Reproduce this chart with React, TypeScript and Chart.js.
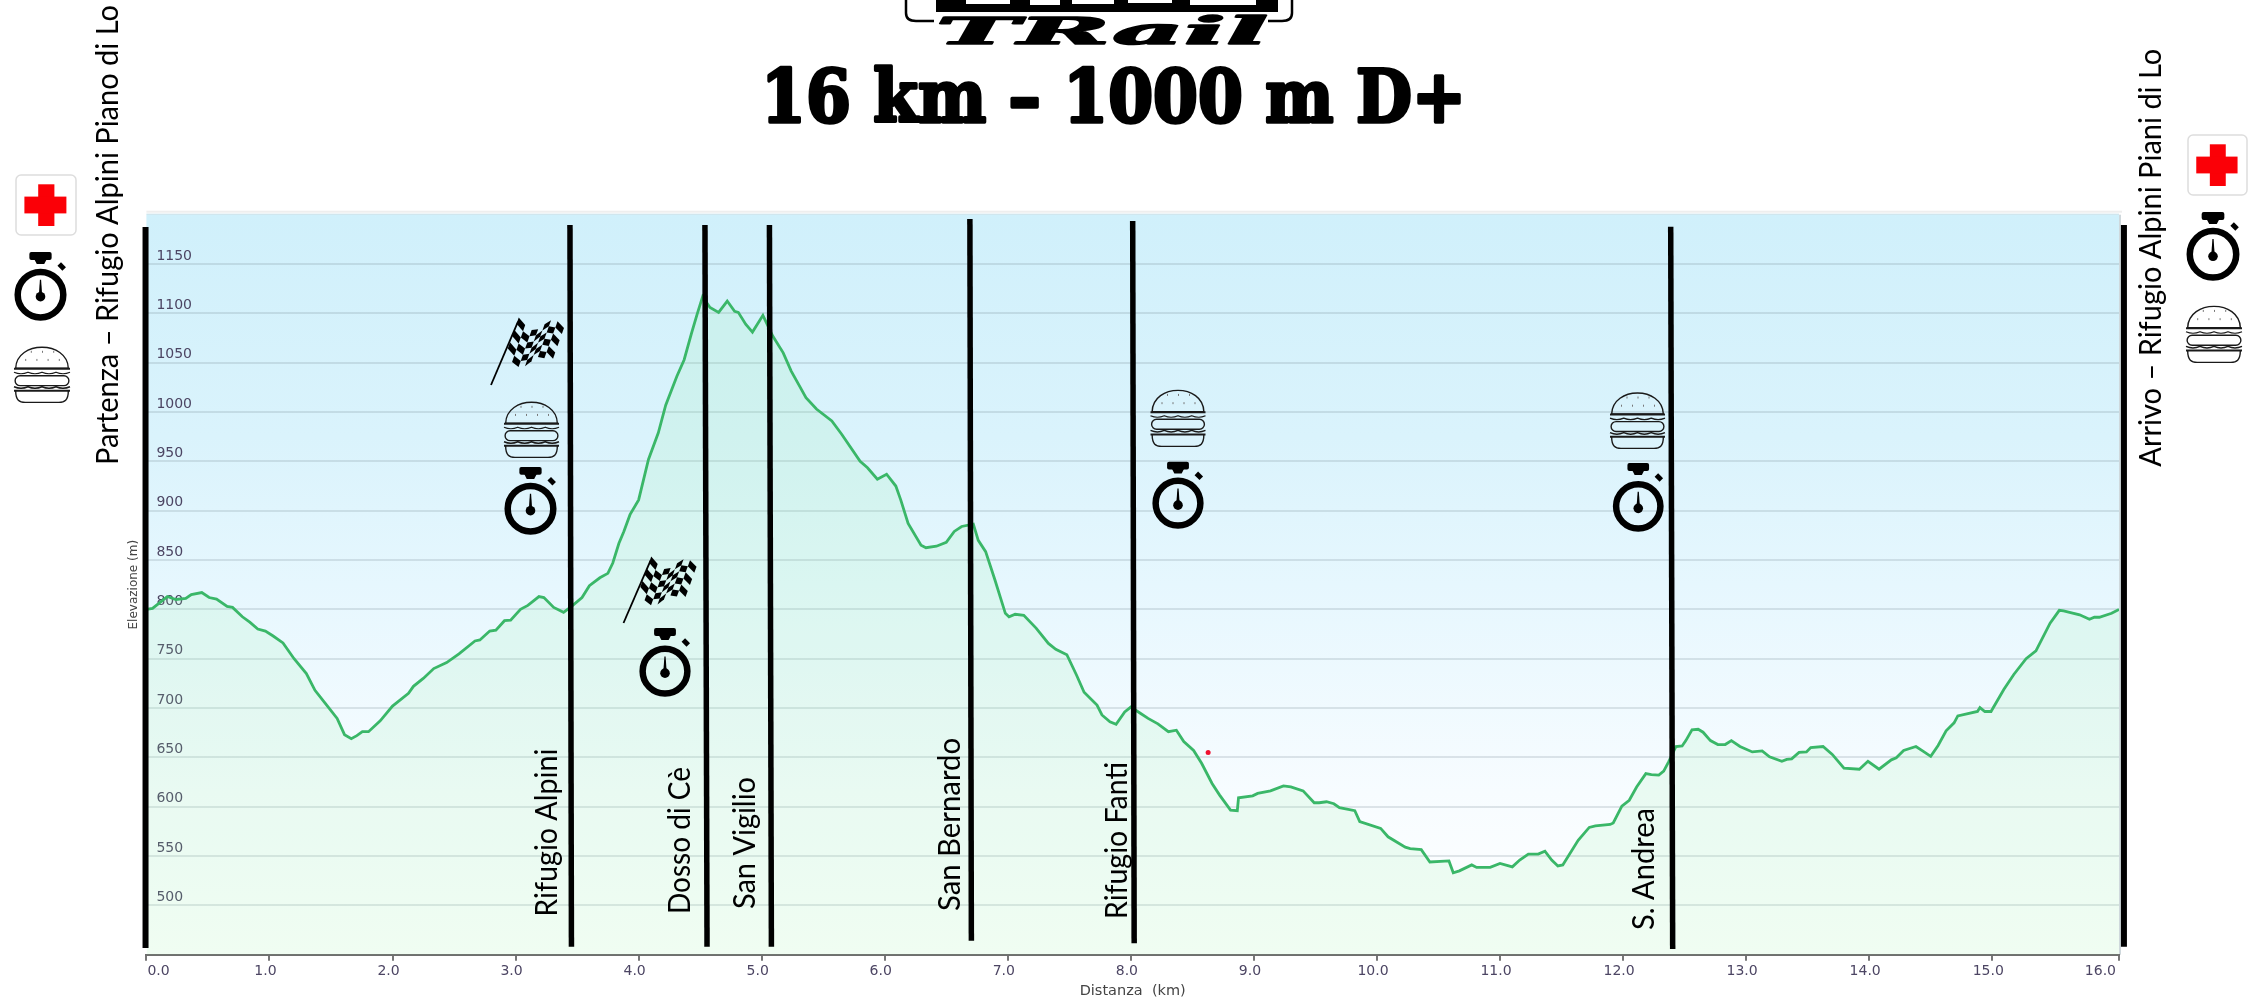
import React, { useEffect, useRef } from "react";
import { Chart, registerables } from "chart.js";

Chart.register(...registerables);

const profileKm = [0,0.05,0.17,0.24,0.32,0.365,0.45,0.51,0.57,0.656,0.7,0.78,0.84,0.905,0.967,1.03,1.11,1.2,1.3,1.37,1.465,1.55,1.61,1.665,1.71,1.755,1.805,1.9,2,2.13,2.17,2.25,2.335,2.44,2.54,2.67,2.71,2.79,2.84,2.91,2.96,3.04,3.1,3.19,3.23,3.31,3.39,3.455,3.54,3.6,3.685,3.75,3.79,3.84,3.88,3.93,4,4.08,4.16,4.22,4.31,4.37,4.43,4.475,4.52,4.58,4.65,4.72,4.78,4.81,4.87,4.925,5.01,5.09,5.175,5.24,5.3,5.36,5.445,5.57,5.65,5.8,5.86,5.94,6.015,6.09,6.13,6.19,6.295,6.335,6.42,6.5,6.565,6.625,6.72,6.76,6.82,6.895,6.98,7.01,7.06,7.13,7.23,7.33,7.39,7.48,7.56,7.62,7.725,7.765,7.83,7.88,7.95,8,8.08,8.14,8.22,8.305,8.37,8.43,8.51,8.575,8.66,8.72,8.81,8.865,8.875,8.99,9.03,9.135,9.24,9.3,9.4,9.49,9.53,9.59,9.65,9.695,9.82,9.86,10.03,10.09,10.23,10.27,10.36,10.43,10.585,10.62,10.67,10.77,10.81,10.92,11,11.1,11.16,11.23,11.31,11.365,11.42,11.47,11.51,11.635,11.725,11.775,11.895,11.92,11.99,12.05,12.11,12.185,12.23,12.29,12.33,12.37,12.43,12.48,12.51,12.56,12.61,12.65,12.71,12.77,12.83,12.88,12.95,13.05,13.13,13.19,13.29,13.33,13.37,13.43,13.49,13.525,13.625,13.7,13.795,13.92,13.99,14.08,14.18,14.22,14.28,14.38,14.44,14.5,14.56,14.625,14.69,14.72,14.88,14.9,14.94,14.99,15.095,15.175,15.275,15.355,15.47,15.545,15.58,15.71,15.79,15.83,15.87,15.97,16.03];
const profileElevation = [800,801,813,810,811,815,817,812,810.5,803,802,792.5,787,780,778,773,766,750,735,718,703,689.5,673,669,672,676,676,687,702,715,722,730,740,746,755,768,769,778,779,788.5,789,800,804,813,812,802,797,803,812,824,832,836.5,847,867,879,896,911,952,979,1007,1036,1053,1080,1099,1117,1106,1101,1112.5,1102,1101,1089,1081,1098,1077,1060,1041.5,1028,1014.5,1003,991,977.5,950,943.5,932,937,925,911,887,865,862.5,864,868,879,884,886.5,870,858.5,830,796,792.5,795,794,781,765.5,759.5,754,733,716,703,693,686,683.5,696,701,694.5,689.5,684,676,677.5,666,657,644,623.5,612,596.5,596,609,611,613.5,616,621,620,616,604,604,605,603,599,596,585,578,569.5,559,557.5,556.5,544,545,533,535,541,538.5,538.5,542.5,539,546,552,552,555,546,540,541,566,579,580.5,582,583.5,600.5,606.5,620,633.5,632.5,632,636,645.5,661,661.5,667,678,678.5,675.5,667,663,663,667,661,655.5,656.5,650.5,646,648,648.5,655,655.5,660,661,653,639,638,646,638,647.5,649.5,657,661,656,651,662,677,685,692,696.5,700.5,696.5,696.5,719,734,750,758,786,799,798.5,794.5,790,792,792,796,800];

const xTickValues = [0,1,2,3,4,5,6,7,8,9,10,11,12,13,14,15,16.03];
const xMin = 0;
const xMax = 16.03;
const yMin = 450;
const yMax = 1200;
const yStep = 50;

const markerKmTop = [-0.007,3.442,4.539,5.063,6.692,8.015,12.387,16.07];
const markerKmBottom = [-0.007,3.454,4.556,5.079,6.704,8.027,12.403,16.07];
const markerElevTop = [1187.5,1189.6,1189.6,1189.6,1195.6,1193.6,1187.8,1189.6];
const markerElevBottom = [456.8,458.1,458.1,458.1,464.2,461.6,455.8,458.1];

const redDotKm = [8.628];
const redDotElev = [655];

const titleText = "16 km – 1000 m D+";
const logoText = "TRail";
const xAxisTitle = "Distanza  (km)";
const yAxisTitle = "Elevazione (m)";

// Rotated place names: text, baseline x, bottom y, length.
const placeNames: [string, number, number, number][] = [
  ["Partenza – Rifugio Alpini Piano di Lo", 118, 465, 460],
  ["Arrivo – Rifugio Alpini Piani di Lo", 2160.5, 466.7, 418],
  ["Rifugio Alpini", 557, 916.7, 168],
  ["Dosso di Cè", 690, 914, 147],
  ["San Vigilio", 755, 909, 132],
  ["San Bernardo", 960, 911, 173],
  ["Rifugio Fanti", 1126.5, 919, 157],
  ["S. Andrea", 1654, 930, 122],
];

// Decorative icons: left, top, width, height.
const crossIcons = [[16,175,60,60],[2188,135,59,60]];
const watchIcons = [[14,252,53,69],[2186,212,54,69],[504,467,53,68],[639,628,52,69],[1152,461.7,52,67.3],[1612.5,463,51.5,69]];
const burgerIcons = [[14,345,56,58],[2186,304,56,59],[504,400,55,58],[1150.5,388,55,59],[1610,390.7,55,58.3]];
const flagIcons = [[491,319,73,66],[623.5,558,73,65]];

function fitText(ctx: CanvasRenderingContext2D, text: string, x: number, y: number, rot: number, font: string, len: number, yScale = 1, bold = 0) {
  ctx.save();
  ctx.font = font;
  ctx.textAlign = "left";
  ctx.textBaseline = "alphabetic";
  ctx.translate(x, y);
  ctx.rotate(rot);
  const w = ctx.measureText(text).width;
  ctx.scale(len / w, yScale);
  if (bold > 0) {
    ctx.lineWidth = bold;
    ctx.lineJoin = "round";
    ctx.strokeStyle = "#000";
    ctx.strokeText(text, 0, 0);
  }
  ctx.fillText(text, 0, 0);
  ctx.restore();
}

function drawCross(ctx: CanvasRenderingContext2D, x: number, y: number, w: number, h: number) {
  ctx.save();
  ctx.fillStyle = "#ffffff";
  ctx.strokeStyle = "#dddddd";
  ctx.lineWidth = 1.5;
  ctx.beginPath();
  ctx.roundRect(x, y, w, h, 5);
  ctx.fill();
  ctx.stroke();
  ctx.fillStyle = "#fb0007";
  ctx.fillRect(x + 0.37 * w, y + 0.155 * h, 0.27 * w, 0.695 * h);
  ctx.fillRect(x + 0.14 * w, y + 0.36 * h, 0.7 * w, 0.28 * h);
  ctx.restore();
}

function drawWatch(ctx: CanvasRenderingContext2D, x: number, y: number, w: number, h: number) {
  ctx.save();
  ctx.fillStyle = "#000";
  ctx.strokeStyle = "#000";
  const cx = x + w * 0.5;
  const r = w * 0.43;
  const cy = y + h - r - 3.5;
  ctx.beginPath();
  ctx.roundRect(cx - w * 0.21, y, w * 0.42, h * 0.115, 2);
  ctx.fill();
  ctx.beginPath();
  ctx.moveTo(cx - w * 0.12, y + h * 0.1);
  ctx.lineTo(cx + w * 0.12, y + h * 0.1);
  ctx.lineTo(cx + w * 0.07, y + h * 0.175);
  ctx.lineTo(cx - w * 0.07, y + h * 0.175);
  ctx.closePath();
  ctx.fill();
  ctx.lineWidth = 6.5;
  ctx.beginPath();
  ctx.arc(cx, cy, r, 0, Math.PI * 2);
  ctx.stroke();
  ctx.save();
  ctx.translate(x + w * 0.9, y + h * 0.21);
  ctx.rotate(Math.PI / 4);
  ctx.fillRect(-3.5, -2.5, 7, 5);
  ctx.restore();
  ctx.beginPath();
  ctx.arc(cx, cy + 2, 4.8, 0, Math.PI * 2);
  ctx.fill();
  ctx.beginPath();
  ctx.moveTo(cx - 1.8, cy + 2);
  ctx.lineTo(cx - 0.6, cy - r * 0.66);
  ctx.lineTo(cx + 0.6, cy - r * 0.66);
  ctx.lineTo(cx + 1.8, cy + 2);
  ctx.closePath();
  ctx.fill();
  ctx.restore();
}

function wavy(ctx: CanvasRenderingContext2D, x0: number, x1: number, y: number, amp: number) {
  ctx.beginPath();
  const n = 4;
  const step = (x1 - x0) / n;
  ctx.moveTo(x0, y);
  for (let i = 0; i < n; i++) {
    ctx.quadraticCurveTo(x0 + step * (i + 0.5), y + amp * 2, x0 + step * (i + 1), y);
  }
  ctx.stroke();
}

function drawBurger(ctx: CanvasRenderingContext2D, x: number, y: number, w: number, h: number) {
  ctx.save();
  ctx.strokeStyle = "#1a1a1a";
  ctx.lineWidth = 1.4;
  const l = x + w * 0.03;
  const rw = w * 0.94;
  ctx.beginPath();
  ctx.moveTo(l, y + h * 0.4);
  ctx.bezierCurveTo(l + rw * 0.02, y - h * 0.08, l + rw * 0.98, y - h * 0.08, l + rw, y + h * 0.4);
  ctx.closePath();
  ctx.stroke();
  ctx.lineWidth = 2;
  ctx.beginPath();
  ctx.moveTo(x, y + h * 0.41);
  ctx.lineTo(x + w, y + h * 0.41);
  ctx.stroke();
  ctx.lineWidth = 1.2;
  wavy(ctx, x, x + w, y + h * 0.47, 1.5);
  ctx.lineWidth = 1.4;
  ctx.beginPath();
  ctx.roundRect(x + w * 0.02, y + h * 0.53, w * 0.96, h * 0.17, 5);
  ctx.stroke();
  wavy(ctx, x, x + w, y + h * 0.72, 1.5);
  ctx.lineWidth = 2;
  ctx.beginPath();
  ctx.moveTo(x, y + h * 0.79);
  ctx.lineTo(x + w, y + h * 0.79);
  ctx.stroke();
  ctx.lineWidth = 1.4;
  ctx.beginPath();
  ctx.moveTo(x + w * 0.03, y + h * 0.79);
  ctx.bezierCurveTo(x + w * 0.03, y + h * 0.96, x + w * 0.1, y + h * 0.99, x + w * 0.2, y + h * 0.99);
  ctx.lineTo(x + w * 0.8, y + h * 0.99);
  ctx.bezierCurveTo(x + w * 0.9, y + h * 0.99, x + w * 0.97, y + h * 0.96, x + w * 0.97, y + h * 0.79);
  ctx.stroke();
  ctx.fillStyle = "#777";
  for (const [a, b] of [[0.3, 0.1], [0.5, 0.1], [0.7, 0.1], [0.2, 0.24], [0.4, 0.24], [0.6, 0.24], [0.8, 0.24]]) {
    ctx.fillRect(x + w * a, y + h * b, 1, 2);
  }
  ctx.restore();
}

function drawFlag(ctx: CanvasRenderingContext2D, x: number, y: number, w: number, h: number) {
  ctx.save();
  ctx.strokeStyle = "#000";
  ctx.fillStyle = "#000";
  ctx.lineWidth = 1.8;
  ctx.beginPath();
  ctx.moveTo(x, y + h);
  ctx.lineTo(x + w * 0.37, y + h * 0.04);
  ctx.stroke();
  const warp = (u: number, v: number): [number, number] => {
    const px = x + w * (0.38 + 0.62 * u - 0.18 * v);
    const py = y + h * (0.0 + 0.17 * u + 0.56 * v + 0.12 * Math.sin(u * Math.PI * 2 - 0.3) * (u > 0.02 ? 1 : 0.6));
    return [px, py];
  };
  const cols = 7;
  const rows = 6;
  for (let c = 0; c < cols; c++) {
    for (let r = 0; r < rows; r++) {
      if ((c + r) % 2) continue;
      const pts = [warp(c / cols, r / rows), warp((c + 1) / cols, r / rows), warp((c + 1) / cols, (r + 1) / rows), warp(c / cols, (r + 1) / rows)];
      ctx.beginPath();
      ctx.moveTo(pts[0][0], pts[0][1]);
      for (let i = 1; i < 4; i++) ctx.lineTo(pts[i][0], pts[i][1]);
      ctx.closePath();
      ctx.fill();
    }
  }
  ctx.restore();
}

function drawLogo(ctx: CanvasRenderingContext2D) {
  ctx.save();
  ctx.strokeStyle = "#000";
  ctx.lineWidth = 2.5;
  ctx.beginPath();
  ctx.moveTo(906, 0);
  ctx.lineTo(906, 13);
  ctx.quadraticCurveTo(906, 21, 916, 21);
  ctx.lineTo(934, 21);
  ctx.moveTo(1268, 21);
  ctx.lineTo(1282, 21);
  ctx.quadraticCurveTo(1292, 21, 1292, 13);
  ctx.lineTo(1292, 0);
  ctx.stroke();
  ctx.fillStyle = "#000";
  ctx.fillRect(936, 0, 342, 13);
  ctx.fillStyle = "#fff";
  for (const [a, b, c] of [[966, 44, 4], [1030, 30, 5], [1072, 42, 4], [1128, 44, 3], [1190, 66, 5]]) {
    ctx.fillRect(a, 0, b, c);
  }
  ctx.fillRect(936, 12, 342, 1.5);
  ctx.fillStyle = "#000";
  fitText(ctx, logoText, 936, 44, 0, "italic bold 36px 'DejaVu Serif'", 332, 1.05, 1.5);
  ctx.restore();
}

const decorations = {
  id: "decorations",
  beforeDraw(chart: any) {
    const { ctx, chartArea: a } = chart;
    ctx.save();
    const g = ctx.createLinearGradient(0, a.top, 0, a.bottom);
    g.addColorStop(0, "#d0f0fb");
    g.addColorStop(0.3, "#daf3fc");
    g.addColorStop(0.5, "#e6f7fe");
    g.addColorStop(0.78, "#f7fcff");
    g.addColorStop(1, "#ffffff");
    ctx.fillStyle = g;
    ctx.fillRect(a.left, a.top, a.right - a.left, a.bottom - a.top);
    ctx.fillStyle = "#eeeeee";
    ctx.fillRect(a.left, a.top - 4, a.right - a.left + 3, 2);
    ctx.fillStyle = "#c4dfe8";
    ctx.fillRect(a.left, a.top - 1, a.right - a.left, 1);
    ctx.fillStyle = "#cfd8dc";
    ctx.fillRect(a.right, a.top, 2, a.bottom - a.top);
    ctx.restore();
    const xs = chart.scales.x;
    const items = xs.getLabelItems(a);
    items[0].options.translation[0] = xs.getPixelForValue(xMin) + 1;
    items[items.length - 1].options.translation[0] = xs.getPixelForValue(xMax) - 3;
  },
  afterDraw(chart: any) {
    const { ctx } = chart;
    ctx.save();
    ctx.fillStyle = "#000";
    drawLogo(ctx);
    fitText(ctx, titleText, 761, 122, 0, "900 72px 'DejaVu Serif'", 705, 1, 3.5);
    for (const [t, x, y, len] of placeNames) {
      fitText(ctx, t, x, y, -Math.PI / 2, "30px Lato", len);
    }
    for (const i of crossIcons) drawCross(ctx, i[0], i[1], i[2], i[3]);
    for (const i of watchIcons) drawWatch(ctx, i[0], i[1], i[2], i[3]);
    for (const i of burgerIcons) drawBurger(ctx, i[0], i[1], i[2], i[3]);
    for (const i of flagIcons) drawFlag(ctx, i[0], i[1], i[2], i[3]);
    ctx.restore();
  },
};

export default function App() {
  const ref = useRef<HTMLCanvasElement>(null);
  useEffect(() => {
    const markerSets = markerKmTop.map((k, i) => ({
      type: "line" as const,
      data: [
        { x: k, y: markerElevTop[i] },
        { x: markerKmBottom[i], y: markerElevBottom[i] },
      ],
      borderColor: "#000000",
      borderWidth: i === 0 || i === markerKmTop.length - 1 ? 6 : 5.5,
      borderCapStyle: "butt" as const,
      pointRadius: 0,
      fill: false,
      clip: false as any,
      order: 1,
    }));
    const chart = new Chart(ref.current!, {
      type: "line",
      data: {
        datasets: [
          {
            data: profileKm.map((k, i) => ({ x: k, y: profileElevation[i] })),
            borderColor: "#3ab768",
            borderWidth: 2.8,
            backgroundColor: "rgba(150,240,160,0.14)",
            fill: "start",
            pointRadius: 0,
            tension: 0,
            order: 3,
          },
          {
            data: redDotKm.map((k, i) => ({ x: k, y: redDotElev[i] })),
            borderColor: "#f01030",
            backgroundColor: "#f01030",
            showLine: false,
            pointRadius: 2.5,
            pointBorderWidth: 0,
            order: 2,
          },
          ...markerSets,
        ],
      },
      options: {
        animation: false,
        responsive: false,
        layout: { padding: { top: 214.7, right: 148, bottom: 0, left: 0 } },
        plugins: { legend: { display: false }, tooltip: { enabled: false }, title: { display: false } },
        scales: {
          x: {
            type: "linear",
            min: xMin,
            max: xMax,
            afterBuildTicks: (s: any) => {
              s.ticks = xTickValues.map((value) => ({ value }));
            },
            afterFit: (s: any) => {
              s.height = 45.3;
            },
            grid: { drawOnChartArea: false, drawTicks: true, tickLength: 6, color: "#777777", lineWidth: 2 },
            border: { display: true, color: "#6f6f6f", width: 2 },
            ticks: {
              autoSkip: false,
              maxRotation: 0,
              align: "inner",
              labelOffset: -4,
              padding: 2,
              color: "#4c4563",
              font: { family: "'DejaVu Sans'", size: 14 },
              callback: (v: any) => Number(v).toFixed(1),
            },
            title: {
              display: true,
              text: xAxisTitle,
              color: "#444444",
              font: { family: "'DejaVu Sans'", size: 14.5 },
              padding: { top: 0, bottom: 0 },
            },
          },
          y: {
            type: "linear",
            min: yMin,
            max: yMax,
            afterFit: (s: any) => {
              s.width = 146.4;
            },
            grid: {
              drawTicks: false,
              lineWidth: 2,
              color: (c: any) => (c.tick && (c.tick.value === yMin || c.tick.value === yMax) ? "rgba(0,0,0,0)" : "rgba(110,130,140,0.2)"),
            },
            border: { display: false },
            ticks: {
              stepSize: yStep,
              mirror: true,
              padding: 10,
              labelOffset: -8,
              color: "#4c4563",
              font: { family: "'DejaVu Sans'", size: 14 },
              callback: (v: any) => (v === yMin || v === yMax ? "" : String(v)),
            },
            title: {
              display: true,
              text: yAxisTitle,
              color: "#444444",
              font: { family: "'DejaVu Sans'", size: 12 },
              padding: { top: 127, bottom: 0 },
            },
          },
        },
      },
      plugins: [decorations],
    } as any);
    return () => chart.destroy();
  }, []);
  return <canvas ref={ref} width={2267} height={1000} style={{ position: "absolute", left: 0, top: 0, width: 2267, height: 1000 }} />;
}
